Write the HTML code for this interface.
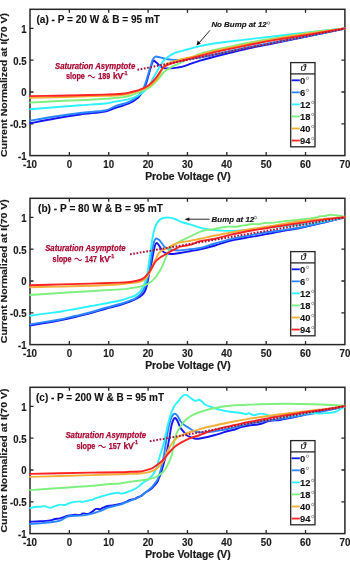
<!DOCTYPE html>
<html><head><meta charset="utf-8"><style>
html,body{margin:0;padding:0;background:#fff;}
svg{display:block;will-change:transform;}
text{font-family:"Liberation Sans",sans-serif;}
.tk{font-size:10.3px;font-weight:bold;fill:#1a1a1a;stroke:#1a1a1a;stroke-width:0.15px;}
.xl{font-size:10.4px;font-weight:bold;fill:#1a1a1a;stroke:#1a1a1a;stroke-width:0.2px;}
.yl{font-size:9.8px;font-weight:bold;fill:#1a1a1a;stroke:#1a1a1a;stroke-width:0.18px;}
.tt{font-size:10.6px;font-weight:bold;fill:#111;stroke:#111;stroke-width:0.12px;}
.an{font-size:8.6px;font-weight:bold;font-style:italic;fill:#a80a34;stroke:#a80a34;stroke-width:0.25px;}
.an2{font-size:8.8px;font-weight:bold;fill:#a80a34;stroke:#a80a34;stroke-width:0.25px;}
.sup{font-size:5.6px;}
.nb{font-size:8.1px;font-weight:bold;font-style:italic;fill:#111;stroke:#111;stroke-width:0.15px;}
.th{font-size:11px;font-style:italic;fill:#111;stroke:#111;stroke-width:0.2px;font-family:"Liberation Serif",serif;}
.lg{font-size:9.4px;font-weight:bold;fill:#111;stroke:#111;stroke-width:0.1px;}
.dg{font-size:6px;fill:#333;}
.dg2{font-size:5.5px;fill:#111;}
</style></head><body>
<svg width="350" height="565" viewBox="0 0 350 565">
<rect width="350" height="565" fill="#fff"/>
<rect x="30.00" y="9.30" width="314.90" height="146.30" fill="none" stroke="#262626" stroke-width="1.5"/>
<path d="M69.36 155.60V152.10M69.36 9.30V12.80M108.72 155.60V152.10M108.72 9.30V12.80M148.09 155.60V152.10M148.09 9.30V12.80M187.45 155.60V152.10M187.45 9.30V12.80M226.81 155.60V152.10M226.81 9.30V12.80M266.18 155.60V152.10M266.18 9.30V12.80M305.54 155.60V152.10M305.54 9.30V12.80M30.00 123.80H33.50M344.90 123.80H341.40M30.00 91.99H33.50M344.90 91.99H341.40M30.00 60.19H33.50M344.90 60.19H341.40M30.00 28.38H33.50M344.90 28.38H341.40" stroke="#262626" stroke-width="1.3" fill="none"/>
<clipPath id="c0"><rect x="29.20" y="9.30" width="316.70" height="146.30"/></clipPath>
<g clip-path="url(#c0)" fill="none" stroke-width="1.9" stroke-linejoin="round" stroke-linecap="round">
<path d="M30.00 123.30 C34.17 122.50 46.67 119.97 55.00 118.50 C63.33 117.03 71.67 115.67 80.00 114.50 C88.33 113.33 99.17 112.58 105.00 111.50 C110.83 110.42 111.00 109.33 115.00 108.00 C119.00 106.67 125.17 105.20 129.00 103.50 C132.83 101.80 135.75 99.80 138.00 97.80 C140.25 95.80 141.17 93.80 142.50 91.50 C143.83 89.20 144.93 86.92 146.00 84.00 C147.07 81.08 147.98 77.17 148.90 74.00 C149.82 70.83 150.72 67.20 151.50 65.00 C152.28 62.80 152.85 61.25 153.60 60.80 C154.35 60.35 154.93 61.47 156.00 62.30 C157.07 63.13 158.67 64.82 160.00 65.80 C161.33 66.78 162.33 67.78 164.00 68.20 C165.67 68.62 167.83 68.40 170.00 68.30 C172.17 68.20 174.50 68.02 177.00 67.60 C179.50 67.18 181.17 66.97 185.00 65.80 C188.83 64.63 193.33 62.57 200.00 60.60 C206.67 58.63 216.67 56.10 225.00 54.00 C233.33 51.90 241.67 49.83 250.00 48.00 C258.33 46.17 265.00 45.02 275.00 43.00 C285.00 40.98 298.33 38.32 310.00 35.90 C321.67 33.48 339.17 29.73 345.00 28.50" stroke="#1414f5"/>
<path d="M30.00 120.70 C34.17 120.00 46.67 117.78 55.00 116.50 C63.33 115.22 71.67 114.00 80.00 113.00 C88.33 112.00 99.17 111.62 105.00 110.50 C110.83 109.38 111.00 107.75 115.00 106.30 C119.00 104.85 125.17 103.48 129.00 101.80 C132.83 100.12 135.75 98.08 138.00 96.20 C140.25 94.32 141.25 92.70 142.50 90.50 C143.75 88.30 144.52 85.83 145.50 83.00 C146.48 80.17 147.45 76.58 148.40 73.50 C149.35 70.42 150.43 66.87 151.20 64.50 C151.97 62.13 152.30 60.62 153.00 59.30 C153.70 57.98 154.23 56.92 155.40 56.60 C156.57 56.28 158.40 57.05 160.00 57.40 C161.60 57.75 163.33 58.35 165.00 58.70 C166.67 59.05 167.83 59.28 170.00 59.50 C172.17 59.72 174.67 60.12 178.00 60.00 C181.33 59.88 186.33 59.20 190.00 58.80 C193.67 58.40 194.17 58.68 200.00 57.60 C205.83 56.52 216.67 54.08 225.00 52.30 C233.33 50.52 241.67 48.57 250.00 46.90 C258.33 45.23 265.00 44.15 275.00 42.30 C285.00 40.45 298.33 38.10 310.00 35.80 C321.67 33.50 339.17 29.72 345.00 28.50" stroke="#2a86ff"/>
<path d="M30.00 109.30 C34.17 108.95 46.67 107.87 55.00 107.20 C63.33 106.53 71.67 105.92 80.00 105.30 C88.33 104.68 99.17 104.12 105.00 103.50 C110.83 102.88 111.00 102.32 115.00 101.60 C119.00 100.88 124.83 100.38 129.00 99.20 C133.17 98.02 137.33 95.95 140.00 94.50 C142.67 93.05 143.33 92.20 145.00 90.50 C146.67 88.80 148.67 86.30 150.00 84.30 C151.33 82.30 152.00 80.35 153.00 78.50 C154.00 76.65 154.83 75.23 156.00 73.20 C157.17 71.17 158.67 68.45 160.00 66.30 C161.33 64.15 162.33 62.10 164.00 60.30 C165.67 58.50 168.17 56.75 170.00 55.50 C171.83 54.25 172.50 53.68 175.00 52.80 C177.50 51.92 180.83 51.32 185.00 50.20 C189.17 49.08 195.50 47.17 200.00 46.10 C204.50 45.03 207.83 44.48 212.00 43.80 C216.17 43.12 218.67 42.78 225.00 42.00 C231.33 41.22 241.67 40.07 250.00 39.10 C258.33 38.13 265.00 37.35 275.00 36.20 C285.00 35.05 298.33 33.50 310.00 32.20 C321.67 30.90 339.17 29.03 345.00 28.40" stroke="#2ef0ff"/>
<path d="M30.00 102.60 C34.17 102.37 46.67 101.60 55.00 101.20 C63.33 100.80 74.17 100.43 80.00 100.20 C85.83 99.97 85.83 100.03 90.00 99.80 C94.17 99.57 100.00 99.18 105.00 98.80 C110.00 98.42 116.00 97.97 120.00 97.50 C124.00 97.03 125.67 96.92 129.00 96.00 C132.33 95.08 136.50 93.48 140.00 92.00 C143.50 90.52 147.33 88.85 150.00 87.10 C152.67 85.35 154.33 83.18 156.00 81.50 C157.67 79.82 158.67 78.58 160.00 77.00 C161.33 75.42 162.33 73.53 164.00 72.00 C165.67 70.47 167.33 69.30 170.00 67.80 C172.67 66.30 176.33 64.75 180.00 63.00 C183.67 61.25 188.67 58.83 192.00 57.30 C195.33 55.77 196.67 54.93 200.00 53.80 C203.33 52.67 207.83 51.53 212.00 50.50 C216.17 49.47 218.67 48.93 225.00 47.60 C231.33 46.27 241.67 44.07 250.00 42.50 C258.33 40.93 265.00 39.88 275.00 38.20 C285.00 36.52 298.33 34.03 310.00 32.40 C321.67 30.77 339.17 29.07 345.00 28.40" stroke="#7ff07f"/>
<path d="M30.00 97.90 C34.17 97.80 46.67 97.52 55.00 97.30 C63.33 97.08 71.67 96.83 80.00 96.60 C88.33 96.37 99.17 96.08 105.00 95.90 C110.83 95.72 112.17 95.65 115.00 95.50 C117.83 95.35 119.67 95.28 122.00 95.00 C124.33 94.72 126.00 94.57 129.00 93.80 C132.00 93.03 136.83 91.60 140.00 90.40 C143.17 89.20 145.50 88.08 148.00 86.60 C150.50 85.12 153.25 83.10 155.00 81.50 C156.75 79.90 157.33 79.00 158.50 77.00 C159.67 75.00 160.75 71.58 162.00 69.50 C163.25 67.42 164.33 65.75 166.00 64.50 C167.67 63.25 169.67 62.82 172.00 62.00 C174.33 61.18 176.67 60.47 180.00 59.60 C183.33 58.73 188.67 57.63 192.00 56.80 C195.33 55.97 196.67 55.48 200.00 54.60 C203.33 53.72 207.83 52.47 212.00 51.50 C216.17 50.53 218.67 50.12 225.00 48.80 C231.33 47.48 241.67 45.25 250.00 43.60 C258.33 41.95 265.00 40.62 275.00 38.90 C285.00 37.18 298.33 35.05 310.00 33.30 C321.67 31.55 339.17 29.22 345.00 28.40" stroke="#f2b03a"/>
<path d="M30.00 96.10 C34.17 96.03 46.67 95.85 55.00 95.70 C63.33 95.55 71.67 95.38 80.00 95.20 C88.33 95.02 99.17 94.75 105.00 94.60 C110.83 94.45 112.17 94.43 115.00 94.30 C117.83 94.17 119.67 94.08 122.00 93.80 C124.33 93.52 126.00 93.30 129.00 92.60 C132.00 91.90 136.83 90.75 140.00 89.60 C143.17 88.45 145.67 87.27 148.00 85.70 C150.33 84.13 152.33 81.98 154.00 80.20 C155.67 78.42 156.67 76.87 158.00 75.00 C159.33 73.13 160.67 70.57 162.00 69.00 C163.33 67.43 164.33 66.55 166.00 65.60 C167.67 64.65 169.67 64.03 172.00 63.30 C174.33 62.57 177.00 61.98 180.00 61.20 C183.00 60.42 186.67 59.48 190.00 58.60 C193.33 57.72 196.33 56.87 200.00 55.90 C203.67 54.93 207.83 53.80 212.00 52.80 C216.17 51.80 218.67 51.23 225.00 49.90 C231.33 48.57 241.67 46.47 250.00 44.80 C258.33 43.13 265.00 41.63 275.00 39.90 C285.00 38.17 298.33 36.32 310.00 34.40 C321.67 32.48 339.17 29.40 345.00 28.40" stroke="#ff2424"/>
<line x1="137.40" y1="69.80" x2="345.00" y2="28.60" stroke="#a3123a" stroke-width="2" stroke-dasharray="1.7 1.6" stroke-linecap="butt"/>
</g>
<text class="tk" x="30.00" y="168.20" text-anchor="middle" textLength="14.14" lengthAdjust="spacingAndGlyphs">-10</text>
<text class="tk" x="69.36" y="168.20" text-anchor="middle" textLength="5.44" lengthAdjust="spacingAndGlyphs">0</text>
<text class="tk" x="108.72" y="168.20" text-anchor="middle" textLength="10.88" lengthAdjust="spacingAndGlyphs">10</text>
<text class="tk" x="148.09" y="168.20" text-anchor="middle" textLength="10.88" lengthAdjust="spacingAndGlyphs">20</text>
<text class="tk" x="187.45" y="168.20" text-anchor="middle" textLength="10.88" lengthAdjust="spacingAndGlyphs">30</text>
<text class="tk" x="226.81" y="168.20" text-anchor="middle" textLength="10.88" lengthAdjust="spacingAndGlyphs">40</text>
<text class="tk" x="266.18" y="168.20" text-anchor="middle" textLength="10.88" lengthAdjust="spacingAndGlyphs">50</text>
<text class="tk" x="305.54" y="168.20" text-anchor="middle" textLength="10.88" lengthAdjust="spacingAndGlyphs">60</text>
<text class="tk" x="344.90" y="168.20" text-anchor="middle" textLength="10.88" lengthAdjust="spacingAndGlyphs">70</text>
<text class="tk" x="26.6" y="160.10" text-anchor="end" textLength="8.52" lengthAdjust="spacingAndGlyphs">-1</text>
<text class="tk" x="26.6" y="128.30" text-anchor="end" textLength="16.50" lengthAdjust="spacingAndGlyphs">-0.5</text>
<text class="tk" x="26.6" y="96.49" text-anchor="end" textLength="5.33" lengthAdjust="spacingAndGlyphs">0</text>
<text class="tk" x="26.6" y="64.69" text-anchor="end" textLength="13.31" lengthAdjust="spacingAndGlyphs">0.5</text>
<text class="tk" x="26.6" y="32.88" text-anchor="end" textLength="5.33" lengthAdjust="spacingAndGlyphs">1</text>
<text class="xl" x="145.2" y="180.10" textLength="85.5" lengthAdjust="spacingAndGlyphs">Probe Voltage (V)</text>
<text class="yl" transform="translate(7.1 85.10) rotate(-90)" x="0" y="0" text-anchor="middle" textLength="144" lengthAdjust="spacingAndGlyphs">Current Normalized at I(70 V)</text>
<text class="tt" x="36.50" y="22.80" textLength="123.50" lengthAdjust="spacingAndGlyphs">(a) - P = 20 W &amp; B = 95 mT</text>
<text class="an" x="55.00" y="69.10" textLength="80.20" lengthAdjust="spacingAndGlyphs">Saturation Asymptote</text>
<text class="an2" x="65.90" y="78.80" textLength="19" lengthAdjust="spacingAndGlyphs">slope</text>
<path d="M87.90 76.50 c1.2 -1.5 2.4 -1.5 3.6 0 s2.4 1.5 3.6 0" fill="none" stroke="#a80a34" stroke-width="1.05"/>
<text class="an2" x="98.20" y="78.80" textLength="12" lengthAdjust="spacingAndGlyphs">189</text>
<text class="an2" x="112.90" y="78.80" textLength="10.4" lengthAdjust="spacingAndGlyphs">kV</text>
<text class="an2 sup" x="122.80" y="74.60" textLength="4.8" lengthAdjust="spacingAndGlyphs">-1</text>
<rect x="290.70" y="62.60" width="24.30" height="84.20" fill="#fff" stroke="#262626" stroke-width="1.3"/>
<line x1="290.70" y1="73.90" x2="315.00" y2="73.90" stroke="#262626" stroke-width="1.3"/>
<text class="th" x="303.15" y="71.40" text-anchor="middle">&#977;</text>
<line x1="291.6" y1="80.30" x2="299.8" y2="80.30" stroke="#1414f5" stroke-width="1.8"/>
<text class="lg" x="300.0" y="83.80">0</text>
<circle cx="307.45" cy="78.30" r="1.2" fill="none" stroke="#444" stroke-width="0.5"/>
<line x1="291.6" y1="92.35" x2="299.8" y2="92.35" stroke="#2a86ff" stroke-width="1.8"/>
<text class="lg" x="300.0" y="95.85">6</text>
<circle cx="307.45" cy="90.35" r="1.2" fill="none" stroke="#444" stroke-width="0.5"/>
<line x1="291.6" y1="104.40" x2="299.8" y2="104.40" stroke="#2ef0ff" stroke-width="1.8"/>
<text class="lg" x="300.0" y="107.90">12</text>
<circle cx="312.70" cy="102.40" r="1.2" fill="none" stroke="#444" stroke-width="0.5"/>
<line x1="291.6" y1="116.45" x2="299.8" y2="116.45" stroke="#7ff07f" stroke-width="1.8"/>
<text class="lg" x="300.0" y="119.95">18</text>
<circle cx="312.70" cy="114.45" r="1.2" fill="none" stroke="#444" stroke-width="0.5"/>
<line x1="291.6" y1="128.50" x2="299.8" y2="128.50" stroke="#f2b03a" stroke-width="1.8"/>
<text class="lg" x="300.0" y="132.00">40</text>
<circle cx="312.70" cy="126.50" r="1.2" fill="none" stroke="#444" stroke-width="0.5"/>
<line x1="291.6" y1="140.55" x2="299.8" y2="140.55" stroke="#ff2424" stroke-width="1.8"/>
<text class="lg" x="300.0" y="144.05">94</text>
<circle cx="312.70" cy="138.55" r="1.2" fill="none" stroke="#444" stroke-width="0.5"/>
<rect x="30.00" y="198.30" width="314.90" height="146.30" fill="none" stroke="#262626" stroke-width="1.5"/>
<path d="M69.36 344.60V341.10M69.36 198.30V201.80M108.72 344.60V341.10M108.72 198.30V201.80M148.09 344.60V341.10M148.09 198.30V201.80M187.45 344.60V341.10M187.45 198.30V201.80M226.81 344.60V341.10M226.81 198.30V201.80M266.18 344.60V341.10M266.18 198.30V201.80M305.54 344.60V341.10M305.54 198.30V201.80M30.00 312.80H33.50M344.90 312.80H341.40M30.00 280.99H33.50M344.90 280.99H341.40M30.00 249.19H33.50M344.90 249.19H341.40M30.00 217.38H33.50M344.90 217.38H341.40" stroke="#262626" stroke-width="1.3" fill="none"/>
<clipPath id="c1"><rect x="29.20" y="198.30" width="316.70" height="146.30"/></clipPath>
<g clip-path="url(#c1)" fill="none" stroke-width="1.9" stroke-linejoin="round" stroke-linecap="round">
<path d="M30.00 325.40 C32.50 325.00 40.00 323.87 45.00 323.00 C50.00 322.13 55.00 321.20 60.00 320.20 C65.00 319.20 70.00 318.13 75.00 317.00 C80.00 315.87 85.00 314.73 90.00 313.40 C95.00 312.07 100.00 310.40 105.00 309.00 C110.00 307.60 115.83 306.23 120.00 305.00 C124.17 303.77 127.17 302.68 130.00 301.60 C132.83 300.52 135.00 299.60 137.00 298.50 C139.00 297.40 140.67 296.25 142.00 295.00 C143.33 293.75 144.17 292.67 145.00 291.00 C145.83 289.33 146.33 287.75 147.00 285.00 C147.67 282.25 148.33 277.72 149.00 274.50 C149.67 271.28 150.33 269.02 151.00 265.70 C151.67 262.38 152.33 257.97 153.00 254.60 C153.67 251.23 154.42 247.43 155.00 245.50 C155.58 243.57 156.00 243.25 156.50 243.00 C157.00 242.75 157.42 243.33 158.00 244.00 C158.58 244.67 159.33 245.92 160.00 247.00 C160.67 248.08 161.33 249.62 162.00 250.50 C162.67 251.38 163.17 251.78 164.00 252.30 C164.83 252.82 165.83 253.32 167.00 253.60 C168.17 253.88 169.67 253.97 171.00 254.00 C172.33 254.03 173.50 253.97 175.00 253.80 C176.50 253.63 177.50 253.43 180.00 253.00 C182.50 252.57 186.67 251.80 190.00 251.20 C193.33 250.60 195.83 250.35 200.00 249.40 C204.17 248.45 210.00 246.93 215.00 245.50 C220.00 244.07 225.00 242.05 230.00 240.80 C235.00 239.55 240.00 238.90 245.00 238.00 C250.00 237.10 254.17 236.48 260.00 235.40 C265.83 234.32 273.33 232.73 280.00 231.50 C286.67 230.27 292.50 229.53 300.00 228.00 C307.50 226.47 317.50 224.08 325.00 222.30 C332.50 220.52 341.67 218.13 345.00 217.30" stroke="#1414f5"/>
<path d="M30.00 324.50 C32.50 324.08 40.00 322.83 45.00 322.00 C50.00 321.17 55.00 320.50 60.00 319.50 C65.00 318.50 70.00 317.17 75.00 316.00 C80.00 314.83 85.00 313.83 90.00 312.50 C95.00 311.17 100.00 309.42 105.00 308.00 C110.00 306.58 115.83 305.23 120.00 304.00 C124.17 302.77 127.50 301.50 130.00 300.60 C132.50 299.70 133.33 299.60 135.00 298.60 C136.67 297.60 138.67 295.93 140.00 294.60 C141.33 293.27 142.00 292.42 143.00 290.60 C144.00 288.78 145.17 285.98 146.00 283.70 C146.83 281.42 147.33 279.85 148.00 276.90 C148.67 273.95 149.28 270.48 150.00 266.00 C150.72 261.52 151.63 254.00 152.30 250.00 C152.97 246.00 153.38 243.90 154.00 242.00 C154.62 240.10 155.17 238.97 156.00 238.60 C156.83 238.23 158.00 238.98 159.00 239.80 C160.00 240.62 161.00 242.25 162.00 243.50 C163.00 244.75 163.67 246.30 165.00 247.30 C166.33 248.30 168.33 249.02 170.00 249.50 C171.67 249.98 173.33 250.05 175.00 250.20 C176.67 250.35 177.50 250.57 180.00 250.40 C182.50 250.23 186.67 249.60 190.00 249.20 C193.33 248.80 195.83 248.95 200.00 248.00 C204.17 247.05 210.00 244.93 215.00 243.50 C220.00 242.07 225.00 240.60 230.00 239.40 C235.00 238.20 240.00 237.30 245.00 236.30 C250.00 235.30 254.17 234.37 260.00 233.40 C265.83 232.43 273.33 231.48 280.00 230.50 C286.67 229.52 292.50 228.92 300.00 227.50 C307.50 226.08 317.50 223.70 325.00 222.00 C332.50 220.30 341.67 218.08 345.00 217.30" stroke="#2a86ff"/>
<path d="M30.00 315.70 C32.50 315.35 40.00 314.27 45.00 313.60 C50.00 312.93 55.00 312.47 60.00 311.70 C65.00 310.93 70.00 309.90 75.00 309.00 C80.00 308.10 85.00 307.22 90.00 306.30 C95.00 305.38 100.00 304.47 105.00 303.50 C110.00 302.53 115.83 301.52 120.00 300.50 C124.17 299.48 127.50 298.20 130.00 297.40 C132.50 296.60 133.33 296.65 135.00 295.70 C136.67 294.75 138.67 293.13 140.00 291.70 C141.33 290.27 142.17 288.62 143.00 287.10 C143.83 285.58 144.33 284.50 145.00 282.60 C145.67 280.70 146.33 279.13 147.00 275.70 C147.67 272.27 148.33 266.45 149.00 262.00 C149.67 257.55 150.42 253.00 151.00 249.00 C151.58 245.00 151.97 241.17 152.50 238.00 C153.03 234.83 153.62 232.17 154.20 230.00 C154.78 227.83 155.20 226.58 156.00 225.00 C156.80 223.42 157.83 221.67 159.00 220.50 C160.17 219.33 161.33 218.48 163.00 218.00 C164.67 217.52 167.00 217.43 169.00 217.60 C171.00 217.77 173.00 218.30 175.00 219.00 C177.00 219.70 178.50 220.90 181.00 221.80 C183.50 222.70 186.83 223.43 190.00 224.40 C193.17 225.37 196.67 226.70 200.00 227.60 C203.33 228.50 206.67 229.32 210.00 229.80 C213.33 230.28 216.67 230.32 220.00 230.50 C223.33 230.68 225.83 230.93 230.00 230.90 C234.17 230.87 240.00 230.70 245.00 230.30 C250.00 229.90 254.17 229.13 260.00 228.50 C265.83 227.87 273.33 227.12 280.00 226.50 C286.67 225.88 292.50 225.68 300.00 224.80 C307.50 223.92 317.50 222.45 325.00 221.20 C332.50 219.95 341.67 217.95 345.00 217.30" stroke="#2ef0ff"/>
<path d="M30.00 295.00 C35.00 294.67 50.00 293.63 60.00 293.00 C70.00 292.37 80.00 291.80 90.00 291.20 C100.00 290.60 113.33 289.88 120.00 289.40 C126.67 288.92 126.67 288.77 130.00 288.30 C133.33 287.83 137.50 287.12 140.00 286.60 C142.50 286.08 143.33 285.88 145.00 285.20 C146.67 284.52 148.33 283.70 150.00 282.50 C151.67 281.30 153.33 280.00 155.00 278.00 C156.67 276.00 158.67 272.75 160.00 270.50 C161.33 268.25 162.17 266.30 163.00 264.50 C163.83 262.70 164.33 261.35 165.00 259.70 C165.67 258.05 166.33 256.17 167.00 254.60 C167.67 253.03 168.17 251.65 169.00 250.30 C169.83 248.95 170.17 247.98 172.00 246.50 C173.83 245.02 177.00 243.07 180.00 241.40 C183.00 239.73 186.67 238.10 190.00 236.50 C193.33 234.90 197.33 232.88 200.00 231.80 C202.67 230.72 204.00 230.38 206.00 230.00 C208.00 229.62 210.00 229.80 212.00 229.50 C214.00 229.20 216.17 228.57 218.00 228.20 C219.83 227.83 221.17 227.57 223.00 227.30 C224.83 227.03 227.00 226.68 229.00 226.60 C231.00 226.52 233.00 226.93 235.00 226.80 C237.00 226.67 239.00 226.10 241.00 225.80 C243.00 225.50 245.17 225.30 247.00 225.00 C248.83 224.70 250.17 224.13 252.00 224.00 C253.83 223.87 255.83 224.37 258.00 224.20 C260.17 224.03 262.67 223.23 265.00 223.00 C267.33 222.77 269.50 223.00 272.00 222.80 C274.50 222.60 277.33 222.13 280.00 221.80 C282.67 221.47 285.50 221.07 288.00 220.80 C290.50 220.53 292.67 220.45 295.00 220.20 C297.33 219.95 299.50 219.58 302.00 219.30 C304.50 219.02 307.67 218.80 310.00 218.50 C312.33 218.20 314.33 217.88 316.00 217.50 C317.67 217.12 318.50 216.45 320.00 216.20 C321.50 215.95 323.33 216.23 325.00 216.00 C326.67 215.77 328.17 214.92 330.00 214.80 C331.83 214.68 333.50 214.97 336.00 215.30 C338.50 215.63 343.50 216.55 345.00 216.80" stroke="#7ff07f"/>
<path d="M30.00 287.30 C35.00 287.17 50.00 286.75 60.00 286.50 C70.00 286.25 80.00 286.17 90.00 285.80 C100.00 285.43 112.50 284.83 120.00 284.30 C127.50 283.77 131.67 283.05 135.00 282.60 C138.33 282.15 138.33 282.20 140.00 281.60 C141.67 281.00 143.33 280.60 145.00 279.00 C146.67 277.40 148.50 274.78 150.00 272.00 C151.50 269.22 153.00 264.48 154.00 262.30 C155.00 260.12 155.33 260.18 156.00 258.90 C156.67 257.62 157.33 255.75 158.00 254.60 C158.67 253.45 159.17 252.78 160.00 252.00 C160.83 251.22 161.83 250.55 163.00 249.90 C164.17 249.25 165.83 248.67 167.00 248.10 C168.17 247.53 168.67 247.18 170.00 246.50 C171.33 245.82 173.33 244.68 175.00 244.00 C176.67 243.32 177.50 242.92 180.00 242.40 C182.50 241.88 186.67 241.50 190.00 240.90 C193.33 240.30 195.83 239.70 200.00 238.80 C204.17 237.90 210.00 236.52 215.00 235.50 C220.00 234.48 225.00 233.62 230.00 232.70 C235.00 231.78 240.00 230.83 245.00 230.00 C250.00 229.17 254.17 228.62 260.00 227.70 C265.83 226.78 273.33 225.58 280.00 224.50 C286.67 223.42 292.50 222.15 300.00 221.20 C307.50 220.25 317.50 219.45 325.00 218.80 C332.50 218.15 341.67 217.55 345.00 217.30" stroke="#f2b03a"/>
<path d="M30.00 285.20 C35.00 285.07 50.00 284.67 60.00 284.40 C70.00 284.13 80.00 283.90 90.00 283.60 C100.00 283.30 113.33 282.87 120.00 282.60 C126.67 282.33 126.67 282.43 130.00 282.00 C133.33 281.57 137.50 280.83 140.00 280.00 C142.50 279.17 143.33 278.50 145.00 277.00 C146.67 275.50 148.67 272.88 150.00 271.00 C151.33 269.12 152.00 267.37 153.00 265.70 C154.00 264.03 154.83 262.35 156.00 261.00 C157.17 259.65 158.67 258.57 160.00 257.60 C161.33 256.63 162.33 256.20 164.00 255.20 C165.67 254.20 168.17 252.60 170.00 251.60 C171.83 250.60 173.33 250.02 175.00 249.20 C176.67 248.38 177.50 247.42 180.00 246.70 C182.50 245.98 186.67 245.82 190.00 244.90 C193.33 243.98 195.83 242.23 200.00 241.20 C204.17 240.17 210.00 239.75 215.00 238.70 C220.00 237.65 225.00 236.05 230.00 234.90 C235.00 233.75 240.00 232.77 245.00 231.80 C250.00 230.83 254.17 230.07 260.00 229.10 C265.83 228.13 273.33 227.02 280.00 226.00 C286.67 224.98 292.50 224.10 300.00 223.00 C307.50 221.90 317.50 220.35 325.00 219.40 C332.50 218.45 341.67 217.65 345.00 217.30" stroke="#ff2424"/>
<line x1="130.00" y1="254.30" x2="345.00" y2="217.40" stroke="#a3123a" stroke-width="2" stroke-dasharray="1.7 1.6" stroke-linecap="butt"/>
</g>
<text class="tk" x="30.00" y="357.20" text-anchor="middle" textLength="14.14" lengthAdjust="spacingAndGlyphs">-10</text>
<text class="tk" x="69.36" y="357.20" text-anchor="middle" textLength="5.44" lengthAdjust="spacingAndGlyphs">0</text>
<text class="tk" x="108.72" y="357.20" text-anchor="middle" textLength="10.88" lengthAdjust="spacingAndGlyphs">10</text>
<text class="tk" x="148.09" y="357.20" text-anchor="middle" textLength="10.88" lengthAdjust="spacingAndGlyphs">20</text>
<text class="tk" x="187.45" y="357.20" text-anchor="middle" textLength="10.88" lengthAdjust="spacingAndGlyphs">30</text>
<text class="tk" x="226.81" y="357.20" text-anchor="middle" textLength="10.88" lengthAdjust="spacingAndGlyphs">40</text>
<text class="tk" x="266.18" y="357.20" text-anchor="middle" textLength="10.88" lengthAdjust="spacingAndGlyphs">50</text>
<text class="tk" x="305.54" y="357.20" text-anchor="middle" textLength="10.88" lengthAdjust="spacingAndGlyphs">60</text>
<text class="tk" x="344.90" y="357.20" text-anchor="middle" textLength="10.88" lengthAdjust="spacingAndGlyphs">70</text>
<text class="tk" x="26.6" y="349.10" text-anchor="end" textLength="8.52" lengthAdjust="spacingAndGlyphs">-1</text>
<text class="tk" x="26.6" y="317.30" text-anchor="end" textLength="16.50" lengthAdjust="spacingAndGlyphs">-0.5</text>
<text class="tk" x="26.6" y="285.49" text-anchor="end" textLength="5.33" lengthAdjust="spacingAndGlyphs">0</text>
<text class="tk" x="26.6" y="253.69" text-anchor="end" textLength="13.31" lengthAdjust="spacingAndGlyphs">0.5</text>
<text class="tk" x="26.6" y="221.88" text-anchor="end" textLength="5.33" lengthAdjust="spacingAndGlyphs">1</text>
<text class="xl" x="145.2" y="369.10" textLength="85.5" lengthAdjust="spacingAndGlyphs">Probe Voltage (V)</text>
<text class="yl" transform="translate(7.1 271.20) rotate(-90)" x="0" y="0" text-anchor="middle" textLength="144" lengthAdjust="spacingAndGlyphs">Current Normalized at I(70 V)</text>
<text class="tt" x="38.00" y="211.80" textLength="125.00" lengthAdjust="spacingAndGlyphs">(b) - P = 80 W &amp; B = 95 mT</text>
<text class="an" x="45.20" y="251.20" textLength="80.40" lengthAdjust="spacingAndGlyphs">Saturation Asymptote</text>
<text class="an2" x="52.60" y="261.70" textLength="19" lengthAdjust="spacingAndGlyphs">slope</text>
<path d="M74.60 259.40 c1.2 -1.5 2.4 -1.5 3.6 0 s2.4 1.5 3.6 0" fill="none" stroke="#a80a34" stroke-width="1.05"/>
<text class="an2" x="84.90" y="261.70" textLength="12" lengthAdjust="spacingAndGlyphs">147</text>
<text class="an2" x="99.60" y="261.70" textLength="10.4" lengthAdjust="spacingAndGlyphs">kV</text>
<text class="an2 sup" x="109.50" y="257.50" textLength="4.8" lengthAdjust="spacingAndGlyphs">-1</text>
<rect x="290.70" y="251.60" width="24.30" height="84.20" fill="#fff" stroke="#262626" stroke-width="1.3"/>
<line x1="290.70" y1="262.90" x2="315.00" y2="262.90" stroke="#262626" stroke-width="1.3"/>
<text class="th" x="303.15" y="260.40" text-anchor="middle">&#977;</text>
<line x1="291.6" y1="269.30" x2="299.8" y2="269.30" stroke="#1414f5" stroke-width="1.8"/>
<text class="lg" x="300.0" y="272.80">0</text>
<circle cx="307.45" cy="267.30" r="1.2" fill="none" stroke="#444" stroke-width="0.5"/>
<line x1="291.6" y1="281.35" x2="299.8" y2="281.35" stroke="#2a86ff" stroke-width="1.8"/>
<text class="lg" x="300.0" y="284.85">6</text>
<circle cx="307.45" cy="279.35" r="1.2" fill="none" stroke="#444" stroke-width="0.5"/>
<line x1="291.6" y1="293.40" x2="299.8" y2="293.40" stroke="#2ef0ff" stroke-width="1.8"/>
<text class="lg" x="300.0" y="296.90">12</text>
<circle cx="312.70" cy="291.40" r="1.2" fill="none" stroke="#444" stroke-width="0.5"/>
<line x1="291.6" y1="305.45" x2="299.8" y2="305.45" stroke="#7ff07f" stroke-width="1.8"/>
<text class="lg" x="300.0" y="308.95">18</text>
<circle cx="312.70" cy="303.45" r="1.2" fill="none" stroke="#444" stroke-width="0.5"/>
<line x1="291.6" y1="317.50" x2="299.8" y2="317.50" stroke="#f2b03a" stroke-width="1.8"/>
<text class="lg" x="300.0" y="321.00">40</text>
<circle cx="312.70" cy="315.50" r="1.2" fill="none" stroke="#444" stroke-width="0.5"/>
<line x1="291.6" y1="329.55" x2="299.8" y2="329.55" stroke="#ff2424" stroke-width="1.8"/>
<text class="lg" x="300.0" y="333.05">94</text>
<circle cx="312.70" cy="327.55" r="1.2" fill="none" stroke="#444" stroke-width="0.5"/>
<rect x="30.00" y="387.30" width="314.90" height="146.30" fill="none" stroke="#262626" stroke-width="1.5"/>
<path d="M69.36 533.60V530.10M69.36 387.30V390.80M108.72 533.60V530.10M108.72 387.30V390.80M148.09 533.60V530.10M148.09 387.30V390.80M187.45 533.60V530.10M187.45 387.30V390.80M226.81 533.60V530.10M226.81 387.30V390.80M266.18 533.60V530.10M266.18 387.30V390.80M305.54 533.60V530.10M305.54 387.30V390.80M30.00 501.80H33.50M344.90 501.80H341.40M30.00 469.99H33.50M344.90 469.99H341.40M30.00 438.19H33.50M344.90 438.19H341.40M30.00 406.38H33.50M344.90 406.38H341.40" stroke="#262626" stroke-width="1.3" fill="none"/>
<clipPath id="c2"><rect x="29.20" y="387.30" width="316.70" height="146.30"/></clipPath>
<g clip-path="url(#c2)" fill="none" stroke-width="1.9" stroke-linejoin="round" stroke-linecap="round">
<path d="M30.00 521.70 C31.67 521.63 36.67 521.52 40.00 521.30 C43.33 521.08 47.50 520.78 50.00 520.40 C52.50 520.02 53.33 519.35 55.00 519.00 C56.67 518.65 57.83 518.85 60.00 518.30 C62.17 517.75 65.50 516.32 68.00 515.70 C70.50 515.08 73.00 514.72 75.00 514.60 C77.00 514.48 78.67 515.20 80.00 515.00 C81.33 514.80 81.67 513.57 83.00 513.40 C84.33 513.23 86.33 514.38 88.00 514.00 C89.67 513.62 91.67 511.95 93.00 511.10 C94.33 510.25 94.83 509.22 96.00 508.90 C97.17 508.58 98.83 509.40 100.00 509.20 C101.17 509.00 101.67 508.23 103.00 507.70 C104.33 507.17 106.00 506.45 108.00 506.00 C110.00 505.55 113.00 505.33 115.00 505.00 C117.00 504.67 118.33 504.45 120.00 504.00 C121.67 503.55 123.33 502.97 125.00 502.30 C126.67 501.63 128.33 500.57 130.00 500.00 C131.67 499.43 133.67 499.40 135.00 498.90 C136.33 498.40 137.00 497.45 138.00 497.00 C139.00 496.55 140.00 496.77 141.00 496.20 C142.00 495.63 143.00 494.38 144.00 493.60 C145.00 492.82 146.00 492.13 147.00 491.50 C148.00 490.87 149.00 490.55 150.00 489.80 C151.00 489.05 151.83 488.22 153.00 487.00 C154.17 485.78 156.00 484.00 157.00 482.50 C158.00 481.00 158.33 479.58 159.00 478.00 C159.67 476.42 160.33 475.00 161.00 473.00 C161.67 471.00 162.33 468.33 163.00 466.00 C163.67 463.67 164.33 461.50 165.00 459.00 C165.67 456.50 166.25 454.67 167.00 451.00 C167.75 447.33 168.75 441.25 169.50 437.00 C170.25 432.75 170.83 428.42 171.50 425.50 C172.17 422.58 172.88 420.75 173.50 419.50 C174.12 418.25 174.53 417.75 175.20 418.00 C175.87 418.25 176.63 419.38 177.50 421.00 C178.37 422.62 179.32 425.83 180.40 427.70 C181.48 429.57 183.07 431.00 184.00 432.20 C184.93 433.40 185.17 434.18 186.00 434.90 C186.83 435.62 187.83 435.98 189.00 436.50 C190.17 437.02 191.67 437.62 193.00 438.00 C194.33 438.38 195.00 438.88 197.00 438.80 C199.00 438.72 202.33 438.05 205.00 437.50 C207.67 436.95 210.50 436.15 213.00 435.50 C215.50 434.85 217.50 434.35 220.00 433.60 C222.50 432.85 225.50 431.68 228.00 431.00 C230.50 430.32 232.83 430.13 235.00 429.50 C237.17 428.87 238.50 427.90 241.00 427.20 C243.50 426.50 247.50 425.70 250.00 425.30 C252.50 424.90 254.00 425.10 256.00 424.80 C258.00 424.50 259.67 424.18 262.00 423.50 C264.33 422.82 267.00 421.28 270.00 420.70 C273.00 420.12 276.67 420.45 280.00 420.00 C283.33 419.55 286.67 418.68 290.00 418.00 C293.33 417.32 296.67 416.70 300.00 415.90 C303.33 415.10 306.67 414.05 310.00 413.20 C313.33 412.35 315.83 411.57 320.00 410.80 C324.17 410.03 330.83 409.40 335.00 408.60 C339.17 407.80 343.33 406.43 345.00 406.00" stroke="#1414f5"/>
<path d="M30.00 524.00 C31.67 523.90 36.67 523.68 40.00 523.40 C43.33 523.12 46.67 522.77 50.00 522.30 C53.33 521.83 57.00 521.57 60.00 520.60 C63.00 519.63 64.67 517.33 68.00 516.50 C71.33 515.67 76.67 515.92 80.00 515.60 C83.33 515.28 84.67 515.35 88.00 514.60 C91.33 513.85 96.67 512.25 100.00 511.10 C103.33 509.95 105.50 508.58 108.00 507.70 C110.50 506.82 113.00 506.32 115.00 505.80 C117.00 505.28 117.50 505.43 120.00 504.60 C122.50 503.77 127.00 501.97 130.00 500.80 C133.00 499.63 135.67 498.77 138.00 497.60 C140.33 496.43 142.00 495.27 144.00 493.80 C146.00 492.33 148.50 490.13 150.00 488.80 C151.50 487.47 151.83 487.18 153.00 485.80 C154.17 484.42 156.00 482.22 157.00 480.50 C158.00 478.78 158.33 477.42 159.00 475.50 C159.67 473.58 160.42 471.25 161.00 469.00 C161.58 466.75 162.00 464.33 162.50 462.00 C163.00 459.67 163.42 458.33 164.00 455.00 C164.58 451.67 165.33 446.10 166.00 442.00 C166.67 437.90 167.25 434.07 168.00 430.40 C168.75 426.73 169.62 422.67 170.50 420.00 C171.38 417.33 172.47 415.43 173.30 414.40 C174.13 413.37 174.72 413.45 175.50 413.80 C176.28 414.15 177.18 415.30 178.00 416.50 C178.82 417.70 179.40 419.62 180.40 421.00 C181.40 422.38 182.57 423.63 184.00 424.80 C185.43 425.97 187.33 426.97 189.00 428.00 C190.67 429.03 192.33 430.28 194.00 431.00 C195.67 431.72 196.50 432.13 199.00 432.30 C201.50 432.47 205.50 432.32 209.00 432.00 C212.50 431.68 216.50 430.98 220.00 430.40 C223.50 429.82 226.67 429.23 230.00 428.50 C233.33 427.77 236.67 426.82 240.00 426.00 C243.33 425.18 245.83 424.43 250.00 423.60 C254.17 422.77 260.00 421.77 265.00 421.00 C270.00 420.23 274.17 419.87 280.00 419.00 C285.83 418.13 293.33 416.97 300.00 415.80 C306.67 414.63 312.50 413.63 320.00 412.00 C327.50 410.37 340.83 407.00 345.00 406.00" stroke="#2a86ff"/>
<path d="M30.00 508.00 C30.83 507.83 33.33 507.22 35.00 507.00 C36.67 506.78 38.33 506.83 40.00 506.70 C41.67 506.57 43.33 506.02 45.00 506.20 C46.67 506.38 48.33 507.80 50.00 507.80 C51.67 507.80 53.33 506.73 55.00 506.20 C56.67 505.67 58.33 504.80 60.00 504.60 C61.67 504.40 63.33 505.28 65.00 505.00 C66.67 504.72 67.50 503.50 70.00 502.90 C72.50 502.30 78.00 501.55 80.00 501.40 C82.00 501.25 80.33 502.20 82.00 502.00 C83.67 501.80 87.83 500.77 90.00 500.20 C92.17 499.63 93.33 499.15 95.00 498.60 C96.67 498.05 97.83 497.57 100.00 496.90 C102.17 496.23 105.00 495.28 108.00 494.60 C111.00 493.92 115.67 492.97 118.00 492.80 C120.33 492.63 120.00 493.87 122.00 493.60 C124.00 493.33 127.67 492.08 130.00 491.20 C132.33 490.32 134.33 489.28 136.00 488.30 C137.67 487.32 138.67 486.35 140.00 485.30 C141.33 484.25 142.67 482.92 144.00 482.00 C145.33 481.08 146.83 480.67 148.00 479.80 C149.17 478.93 150.17 477.68 151.00 476.80 C151.83 475.92 152.33 475.47 153.00 474.50 C153.67 473.53 154.33 472.30 155.00 471.00 C155.67 469.70 156.42 468.45 157.00 466.70 C157.58 464.95 157.92 462.62 158.50 460.50 C159.08 458.38 159.83 456.17 160.50 454.00 C161.17 451.83 161.83 449.75 162.50 447.50 C163.17 445.25 163.87 443.08 164.50 440.50 C165.13 437.92 165.72 434.75 166.30 432.00 C166.88 429.25 167.47 426.25 168.00 424.00 C168.53 421.75 168.93 420.42 169.50 418.50 C170.07 416.58 170.73 414.33 171.40 412.50 C172.07 410.67 172.77 408.92 173.50 407.50 C174.23 406.08 174.88 405.20 175.80 404.00 C176.72 402.80 177.97 401.55 179.00 400.30 C180.03 399.05 181.00 397.45 182.00 396.50 C183.00 395.55 184.07 394.72 185.00 394.60 C185.93 394.48 186.52 395.10 187.60 395.80 C188.68 396.50 190.35 398.00 191.50 398.80 C192.65 399.60 193.65 400.30 194.50 400.60 C195.35 400.90 195.85 400.73 196.60 400.60 C197.35 400.47 198.10 399.65 199.00 399.80 C199.90 399.95 201.00 400.72 202.00 401.50 C203.00 402.28 203.50 403.58 205.00 404.50 C206.50 405.42 208.67 406.17 211.00 407.00 C213.33 407.83 216.67 408.83 219.00 409.50 C221.33 410.17 222.67 410.58 225.00 411.00 C227.33 411.42 230.33 411.67 233.00 412.00 C235.67 412.33 238.83 412.63 241.00 413.00 C243.17 413.37 244.67 414.15 246.00 414.20 C247.33 414.25 247.67 413.13 249.00 413.30 C250.33 413.47 252.17 415.15 254.00 415.20 C255.83 415.25 258.17 413.75 260.00 413.60 C261.83 413.45 263.33 413.90 265.00 414.30 C266.67 414.70 267.50 415.55 270.00 416.00 C272.50 416.45 276.67 417.00 280.00 417.00 C283.33 417.00 286.67 416.42 290.00 416.00 C293.33 415.58 296.67 415.00 300.00 414.50 C303.33 414.00 306.67 413.15 310.00 413.00 C313.33 412.85 317.00 413.60 320.00 413.60 C323.00 413.60 325.50 413.27 328.00 413.00 C330.50 412.73 333.00 412.62 335.00 412.00 C337.00 411.38 338.33 410.23 340.00 409.30 C341.67 408.37 344.17 406.88 345.00 406.40" stroke="#2ef0ff"/>
<path d="M30.00 490.10 C35.00 489.75 50.00 488.68 60.00 488.00 C70.00 487.32 81.67 486.67 90.00 486.00 C98.33 485.33 105.00 484.42 110.00 484.00 C115.00 483.58 116.67 483.87 120.00 483.50 C123.33 483.13 126.67 482.30 130.00 481.80 C133.33 481.30 137.00 480.92 140.00 480.50 C143.00 480.08 145.50 479.83 148.00 479.30 C150.50 478.77 153.00 478.08 155.00 477.30 C157.00 476.52 158.33 475.85 160.00 474.60 C161.67 473.35 163.67 471.57 165.00 469.80 C166.33 468.03 167.17 465.63 168.00 464.00 C168.83 462.37 169.33 461.67 170.00 460.00 C170.67 458.33 171.25 457.33 172.00 454.00 C172.75 450.67 173.67 443.58 174.50 440.00 C175.33 436.42 176.02 434.75 177.00 432.50 C177.98 430.25 179.07 428.50 180.40 426.50 C181.73 424.50 183.23 422.25 185.00 420.50 C186.77 418.75 189.00 417.25 191.00 416.00 C193.00 414.75 194.67 413.92 197.00 413.00 C199.33 412.08 202.00 411.33 205.00 410.50 C208.00 409.67 211.67 408.72 215.00 408.00 C218.33 407.28 221.67 406.67 225.00 406.20 C228.33 405.73 230.83 405.47 235.00 405.20 C239.17 404.93 244.17 404.80 250.00 404.60 C255.83 404.40 264.17 404.13 270.00 404.00 C275.83 403.87 280.00 403.80 285.00 403.80 C290.00 403.80 294.17 403.88 300.00 404.00 C305.83 404.12 312.50 404.23 320.00 404.50 C327.50 404.77 340.83 405.42 345.00 405.60" stroke="#7ff07f"/>
<path d="M30.00 476.90 C35.00 476.75 50.00 476.30 60.00 476.00 C70.00 475.70 80.00 475.38 90.00 475.10 C100.00 474.82 113.33 474.52 120.00 474.30 C126.67 474.08 126.67 473.93 130.00 473.80 C133.33 473.67 136.67 473.83 140.00 473.50 C143.33 473.17 147.50 472.42 150.00 471.80 C152.50 471.18 153.33 470.85 155.00 469.80 C156.67 468.75 158.50 467.13 160.00 465.50 C161.50 463.87 162.83 462.17 164.00 460.00 C165.17 457.83 166.00 454.75 167.00 452.50 C168.00 450.25 168.95 448.33 170.00 446.50 C171.05 444.67 171.97 443.08 173.30 441.50 C174.63 439.92 176.05 438.25 178.00 437.00 C179.95 435.75 183.17 434.75 185.00 434.00 C186.83 433.25 186.50 433.32 189.00 432.50 C191.50 431.68 196.50 430.10 200.00 429.10 C203.50 428.10 206.67 427.30 210.00 426.50 C213.33 425.70 215.83 425.18 220.00 424.30 C224.17 423.42 230.00 422.15 235.00 421.20 C240.00 420.25 243.33 419.63 250.00 418.60 C256.67 417.57 266.67 416.10 275.00 415.00 C283.33 413.90 291.67 413.00 300.00 412.00 C308.33 411.00 317.50 410.00 325.00 409.00 C332.50 408.00 341.67 406.50 345.00 406.00" stroke="#f2b03a"/>
<path d="M30.00 473.90 C35.00 473.78 50.00 473.42 60.00 473.20 C70.00 472.98 80.00 472.77 90.00 472.60 C100.00 472.43 113.33 472.33 120.00 472.20 C126.67 472.07 126.67 471.92 130.00 471.80 C133.33 471.68 137.50 471.73 140.00 471.50 C142.50 471.27 143.00 470.93 145.00 470.40 C147.00 469.87 150.00 469.20 152.00 468.30 C154.00 467.40 155.33 466.22 157.00 465.00 C158.67 463.78 160.50 462.42 162.00 461.00 C163.50 459.58 164.67 458.08 166.00 456.50 C167.33 454.92 168.48 453.17 170.00 451.50 C171.52 449.83 173.27 447.98 175.10 446.50 C176.93 445.02 178.68 443.92 181.00 442.60 C183.32 441.28 185.83 439.87 189.00 438.60 C192.17 437.33 196.50 436.23 200.00 435.00 C203.50 433.77 206.67 432.32 210.00 431.20 C213.33 430.08 215.83 429.33 220.00 428.30 C224.17 427.27 230.00 426.08 235.00 425.00 C240.00 423.92 243.33 423.13 250.00 421.80 C256.67 420.47 266.67 418.47 275.00 417.00 C283.33 415.53 291.67 414.25 300.00 413.00 C308.33 411.75 317.50 410.67 325.00 409.50 C332.50 408.33 341.67 406.58 345.00 406.00" stroke="#ff2424"/>
<line x1="149.80" y1="441.30" x2="345.00" y2="406.10" stroke="#a3123a" stroke-width="2" stroke-dasharray="1.7 1.6" stroke-linecap="butt"/>
</g>
<text class="tk" x="30.00" y="546.20" text-anchor="middle" textLength="14.14" lengthAdjust="spacingAndGlyphs">-10</text>
<text class="tk" x="69.36" y="546.20" text-anchor="middle" textLength="5.44" lengthAdjust="spacingAndGlyphs">0</text>
<text class="tk" x="108.72" y="546.20" text-anchor="middle" textLength="10.88" lengthAdjust="spacingAndGlyphs">10</text>
<text class="tk" x="148.09" y="546.20" text-anchor="middle" textLength="10.88" lengthAdjust="spacingAndGlyphs">20</text>
<text class="tk" x="187.45" y="546.20" text-anchor="middle" textLength="10.88" lengthAdjust="spacingAndGlyphs">30</text>
<text class="tk" x="226.81" y="546.20" text-anchor="middle" textLength="10.88" lengthAdjust="spacingAndGlyphs">40</text>
<text class="tk" x="266.18" y="546.20" text-anchor="middle" textLength="10.88" lengthAdjust="spacingAndGlyphs">50</text>
<text class="tk" x="305.54" y="546.20" text-anchor="middle" textLength="10.88" lengthAdjust="spacingAndGlyphs">60</text>
<text class="tk" x="344.90" y="546.20" text-anchor="middle" textLength="10.88" lengthAdjust="spacingAndGlyphs">70</text>
<text class="tk" x="26.6" y="538.10" text-anchor="end" textLength="8.52" lengthAdjust="spacingAndGlyphs">-1</text>
<text class="tk" x="26.6" y="506.30" text-anchor="end" textLength="16.50" lengthAdjust="spacingAndGlyphs">-0.5</text>
<text class="tk" x="26.6" y="474.49" text-anchor="end" textLength="5.33" lengthAdjust="spacingAndGlyphs">0</text>
<text class="tk" x="26.6" y="442.69" text-anchor="end" textLength="13.31" lengthAdjust="spacingAndGlyphs">0.5</text>
<text class="tk" x="26.6" y="410.88" text-anchor="end" textLength="5.33" lengthAdjust="spacingAndGlyphs">1</text>
<text class="xl" x="145.2" y="558.10" textLength="85.5" lengthAdjust="spacingAndGlyphs">Probe Voltage (V)</text>
<text class="yl" transform="translate(7.1 460.60) rotate(-90)" x="0" y="0" text-anchor="middle" textLength="144" lengthAdjust="spacingAndGlyphs">Current Normalized at I(70 V)</text>
<text class="tt" x="36.00" y="400.80" textLength="128.00" lengthAdjust="spacingAndGlyphs">(c) - P = 200 W &amp; B = 95 mT</text>
<text class="an" x="65.40" y="438.20" textLength="80.70" lengthAdjust="spacingAndGlyphs">Saturation Asymptote</text>
<text class="an2" x="76.40" y="448.60" textLength="19" lengthAdjust="spacingAndGlyphs">slope</text>
<path d="M98.40 446.30 c1.2 -1.5 2.4 -1.5 3.6 0 s2.4 1.5 3.6 0" fill="none" stroke="#a80a34" stroke-width="1.05"/>
<text class="an2" x="108.70" y="448.60" textLength="12" lengthAdjust="spacingAndGlyphs">157</text>
<text class="an2" x="123.40" y="448.60" textLength="10.4" lengthAdjust="spacingAndGlyphs">kV</text>
<text class="an2 sup" x="133.30" y="444.40" textLength="4.8" lengthAdjust="spacingAndGlyphs">-1</text>
<rect x="290.70" y="440.60" width="24.30" height="84.20" fill="#fff" stroke="#262626" stroke-width="1.3"/>
<line x1="290.70" y1="451.90" x2="315.00" y2="451.90" stroke="#262626" stroke-width="1.3"/>
<text class="th" x="303.15" y="449.40" text-anchor="middle">&#977;</text>
<line x1="291.6" y1="458.30" x2="299.8" y2="458.30" stroke="#1414f5" stroke-width="1.8"/>
<text class="lg" x="300.0" y="461.80">0</text>
<circle cx="307.45" cy="456.30" r="1.2" fill="none" stroke="#444" stroke-width="0.5"/>
<line x1="291.6" y1="470.35" x2="299.8" y2="470.35" stroke="#2a86ff" stroke-width="1.8"/>
<text class="lg" x="300.0" y="473.85">6</text>
<circle cx="307.45" cy="468.35" r="1.2" fill="none" stroke="#444" stroke-width="0.5"/>
<line x1="291.6" y1="482.40" x2="299.8" y2="482.40" stroke="#2ef0ff" stroke-width="1.8"/>
<text class="lg" x="300.0" y="485.90">12</text>
<circle cx="312.70" cy="480.40" r="1.2" fill="none" stroke="#444" stroke-width="0.5"/>
<line x1="291.6" y1="494.45" x2="299.8" y2="494.45" stroke="#7ff07f" stroke-width="1.8"/>
<text class="lg" x="300.0" y="497.95">18</text>
<circle cx="312.70" cy="492.45" r="1.2" fill="none" stroke="#444" stroke-width="0.5"/>
<line x1="291.6" y1="506.50" x2="299.8" y2="506.50" stroke="#f2b03a" stroke-width="1.8"/>
<text class="lg" x="300.0" y="510.00">40</text>
<circle cx="312.70" cy="504.50" r="1.2" fill="none" stroke="#444" stroke-width="0.5"/>
<line x1="291.6" y1="518.55" x2="299.8" y2="518.55" stroke="#ff2424" stroke-width="1.8"/>
<text class="lg" x="300.0" y="522.05">94</text>
<circle cx="312.70" cy="516.55" r="1.2" fill="none" stroke="#444" stroke-width="0.5"/>
<text class="nb" x="211.4" y="27.4" textLength="55.3" lengthAdjust="spacingAndGlyphs">No Bump at 12</text>
<circle cx="268.6" cy="23.0" r="1.3" fill="none" stroke="#222" stroke-width="0.5"/>
<path d="M210 30.3 L198.8 43.2" stroke="#111" stroke-width="0.9" fill="none"/>
<path d="M196.6 45.4 L197.6 40.6 L200.8 43.4 Z" fill="#111"/>
<text class="nb" x="211.6" y="222.2" textLength="42.6" lengthAdjust="spacingAndGlyphs">Bump at 12</text>
<circle cx="255.3" cy="217.6" r="1.3" fill="none" stroke="#222" stroke-width="0.5"/>
<path d="M209.6 219.2 L188 219.2" stroke="#111" stroke-width="0.9" fill="none"/>
<path d="M184.6 219.2 L189.4 217.4 L189.4 221 Z" fill="#111"/>
</svg></body></html>
